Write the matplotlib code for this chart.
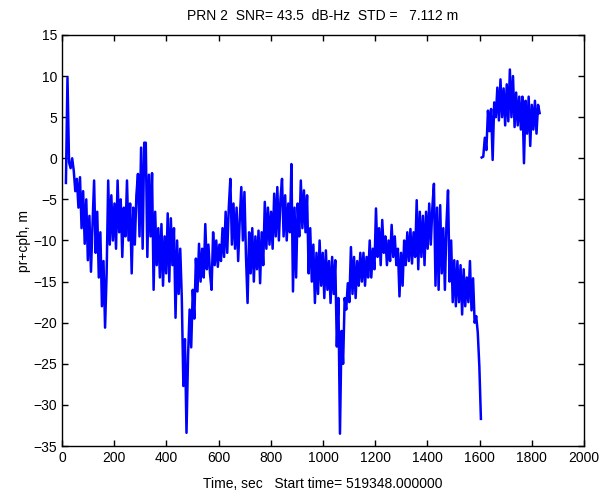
import numpy as np
import matplotlib
matplotlib.use("Agg")
import matplotlib.pyplot as plt

plt.rcParams['font.family'] = ['Liberation Sans', 'DejaVu Sans']

# first arc: pr+cph residual, sampled from t=15 s to t=1605 s
arc1_start, arc1_end = 15, 1605
arc1_vals = [
    -3.0, 9.8, -0.5, -1.2, 0.0, -1.5, -4.0, -2.5, -6.0, -2.3,
    -8.5, -4.0, -10.4, -5.0, -12.4, -7.0, -13.8, -8.0, -2.7, -11.5,
    -6.5, -14.5, -9.0, -18.0, -12.5, -20.6, -14.0, -2.7, -10.5, -4.5,
    -10.0, -5.5, -11.0, -2.7, -9.0, -5.0, -12.0, -6.0, -9.5, -2.7,
    -10.0, -5.5, -14.0, -6.0, -10.5, -4.5, -1.9, -9.5, 1.3, -11.0,
    1.9, 1.9, -12.0, -2.0, -9.5, -1.8, -16.0, -6.5, -13.0, -8.5,
    -14.5, -8.0, -15.5, -9.5, -14.0, -6.7, -15.0, -7.3, -13.0, -8.5,
    -19.4, -10.0, -16.5, -11.0, -17.0, -27.7, -22.0, -33.4, -24.0, -18.4,
    -23.0, -16.0, -19.5, -12.2, -16.2, -10.4, -15.0, -11.0, -14.5, -8.0,
    -13.5, -10.5, -14.0, -16.0, -9.0, -13.0, -10.0, -13.2, -10.5, -12.5,
    -8.5, -12.0, -6.5, -11.5, -6.0, -2.5, -10.5, -5.5, -11.0, -6.0,
    -12.5, -7.5, -3.5, -10.0, -4.1, -12.0, -17.6, -9.0, -14.0, -8.5,
    -15.0, -9.5, -13.5, -8.8, -15.2, -9.0, -13.0, -5.3, -11.0, -6.0,
    -10.5, -6.5, -11.0, -4.3, -9.5, -3.5, -10.0, -5.0, -2.5, -9.5,
    -4.5, -10.0, -5.5, -9.0, -0.7, -16.2, -6.0, -14.5, -5.5, -9.5,
    -2.7, -8.5, -3.9, -9.0, -4.5, -14.0, -8.5, -15.0, -10.5, -17.6,
    -11.5, -16.5, -10.0, -15.5, -11.5, -17.0, -11.2, -16.0, -12.5, -17.6,
    -12.0, -16.5, -12.4, -22.9, -17.0, -33.5, -21.0, -25.0, -17.0, -18.4,
    -15.2, -17.5, -10.8, -16.5, -12.0, -17.0, -12.5, -15.5, -11.5, -15.0,
    -11.5, -15.5, -12.0, -14.5, -10.0, -14.5, -11.0, -13.5, -6.1, -12.0,
    -8.5, -13.0, -7.5, -11.5, -9.5, -13.0, -10.0, -12.5, -8.1, -12.0,
    -9.5, -13.0, -11.0, -16.8, -11.5, -15.5, -10.0, -13.0, -9.0, -12.5,
    -8.6, -12.8, -9.0, -12.0, -5.1, -13.5, -6.5, -12.0, -7.0, -13.0,
    -6.5, -11.0, -5.5, -10.5, -6.0, -3.1, -15.5, -6.0, -16.0, -5.7,
    -14.0, -8.5, -16.0, -8.0, -3.9, -15.0, -10.0, -17.5, -12.4, -18.0,
    -12.5, -17.5, -13.0, -19.0, -13.5, -18.0, -14.5, -17.5, -12.5, -18.5,
    -14.6, -20.0, -19.2, -21.2, -25.3, -31.7,
]

# second arc after the jump
arc2_start, arc2_end = 1608, 1830
arc2_vals = [
    0.1, 0.2, 2.5, 1.0, 5.8, 3.3, 6.0, -0.2, 6.8, 5.0,
    8.6, 4.6, 9.6, 5.0, 8.5, 4.0, 9.0, 4.5, 10.8, 5.0,
    10.0, 3.8, 8.0, 4.0, 7.5, 3.5, 7.5, -0.6, 7.0, 3.0,
    7.5, 1.5, 6.5, 3.5, 7.0, 3.0, 6.5, 5.5,
]

t1 = np.linspace(arc1_start, arc1_end, len(arc1_vals))
t2 = np.linspace(arc2_start, arc2_end, len(arc2_vals))

fig = plt.figure(figsize=(6.16, 4.97), dpi=100)
ax = fig.add_axes([62/616, 51/497, 522/616, 411/497])

ax.plot(t1, arc1_vals, color=(0, 0, 1), lw=1.8)
ax.plot(t2, arc2_vals, color=(0, 0, 1), lw=1.8)

ax.set_xlim(0, 2000)
ax.set_ylim(-35, 15)
ax.set_xticks(np.arange(0, 2001, 200))
ax.set_yticks(np.arange(-35, 16, 5))
ax.tick_params(direction='in', top=True, right=True, length=4, width=1, labelsize=10)
for s in ax.spines.values():
    s.set_linewidth(1)

ax.set_title("PRN 2  SNR= 43.5  dB-Hz  STD =   7.112 m", fontsize=10, pad=11)
ax.set_xlabel("Time, sec   Start time= 519348.000000", fontsize=10, labelpad=9)
ax.set_ylabel("pr+cph, m", fontsize=10, labelpad=2)

fig.savefig("out.png", dpi=100)
